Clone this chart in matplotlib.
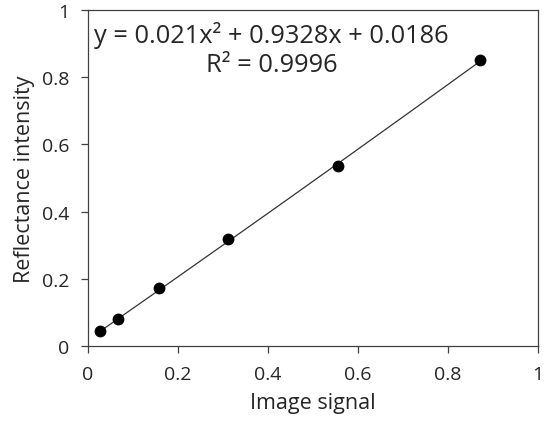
import numpy as np
import matplotlib
matplotlib.use("Agg")
import matplotlib.pyplot as plt

# measured calibration points
image_signal = [0.027, 0.066, 0.158, 0.310, 0.555, 0.871]
reflectance = [0.044, 0.080, 0.173, 0.318, 0.537, 0.851]
# quadratic trendline coefficients (from the chart's equation), highest order first
fit_coef = [0.021, 0.9328, 0.0186]
r_squared = 0.9996
ticks = [0, 0.2, 0.4, 0.6, 0.8, 1]
tick_labels = ["0", "0.2", "0.4", "0.6", "0.8", "1"]

plt.rcParams["font.family"] = ["Open Sans", "DejaVu Sans"]
TXT = "#262626"

fig = plt.figure(figsize=(5.47, 4.27), dpi=100)
ax = fig.add_axes([88/547, 1 - 347/427, 450/547, 336/427])

xs = np.linspace(min(image_signal), max(image_signal), 200)
ax.plot(xs, np.polyval(fit_coef, xs), color="#333333", lw=0.9)
ax.plot(image_signal, reflectance, "o", color="black", ms=7.5, zorder=3)

ax.set_xlim(0, 1); ax.set_ylim(0, 1)
ax.set_xticks(ticks); ax.set_xticklabels(tick_labels)
ax.set_yticks(ticks); ax.set_yticklabels(tick_labels)
ax.tick_params(direction="out", length=5, width=0.9, color="#404040",
               labelsize=14, labelcolor=TXT, pad=8.5)
for s in ax.spines.values():
    s.set_color("#404040"); s.set_linewidth(0.9)

ax.set_xlabel("Image signal", fontsize=15.5, color=TXT, labelpad=7)
ax.set_ylabel("Reflectance intensity", fontsize=15.5, color=TXT, labelpad=5)

eq = (f"y = {fit_coef[0]:g}x\u00b2 + {fit_coef[1]:g}x + {fit_coef[2]:g}\n"
      f"R\u00b2 = {r_squared:g}")
ax.text(0.408, 0.968, eq, transform=ax.transAxes, ha="center", va="top",
        fontsize=18.3, color=TXT, linespacing=1.2, multialignment="center")

fig.savefig("out.png", dpi=100)
